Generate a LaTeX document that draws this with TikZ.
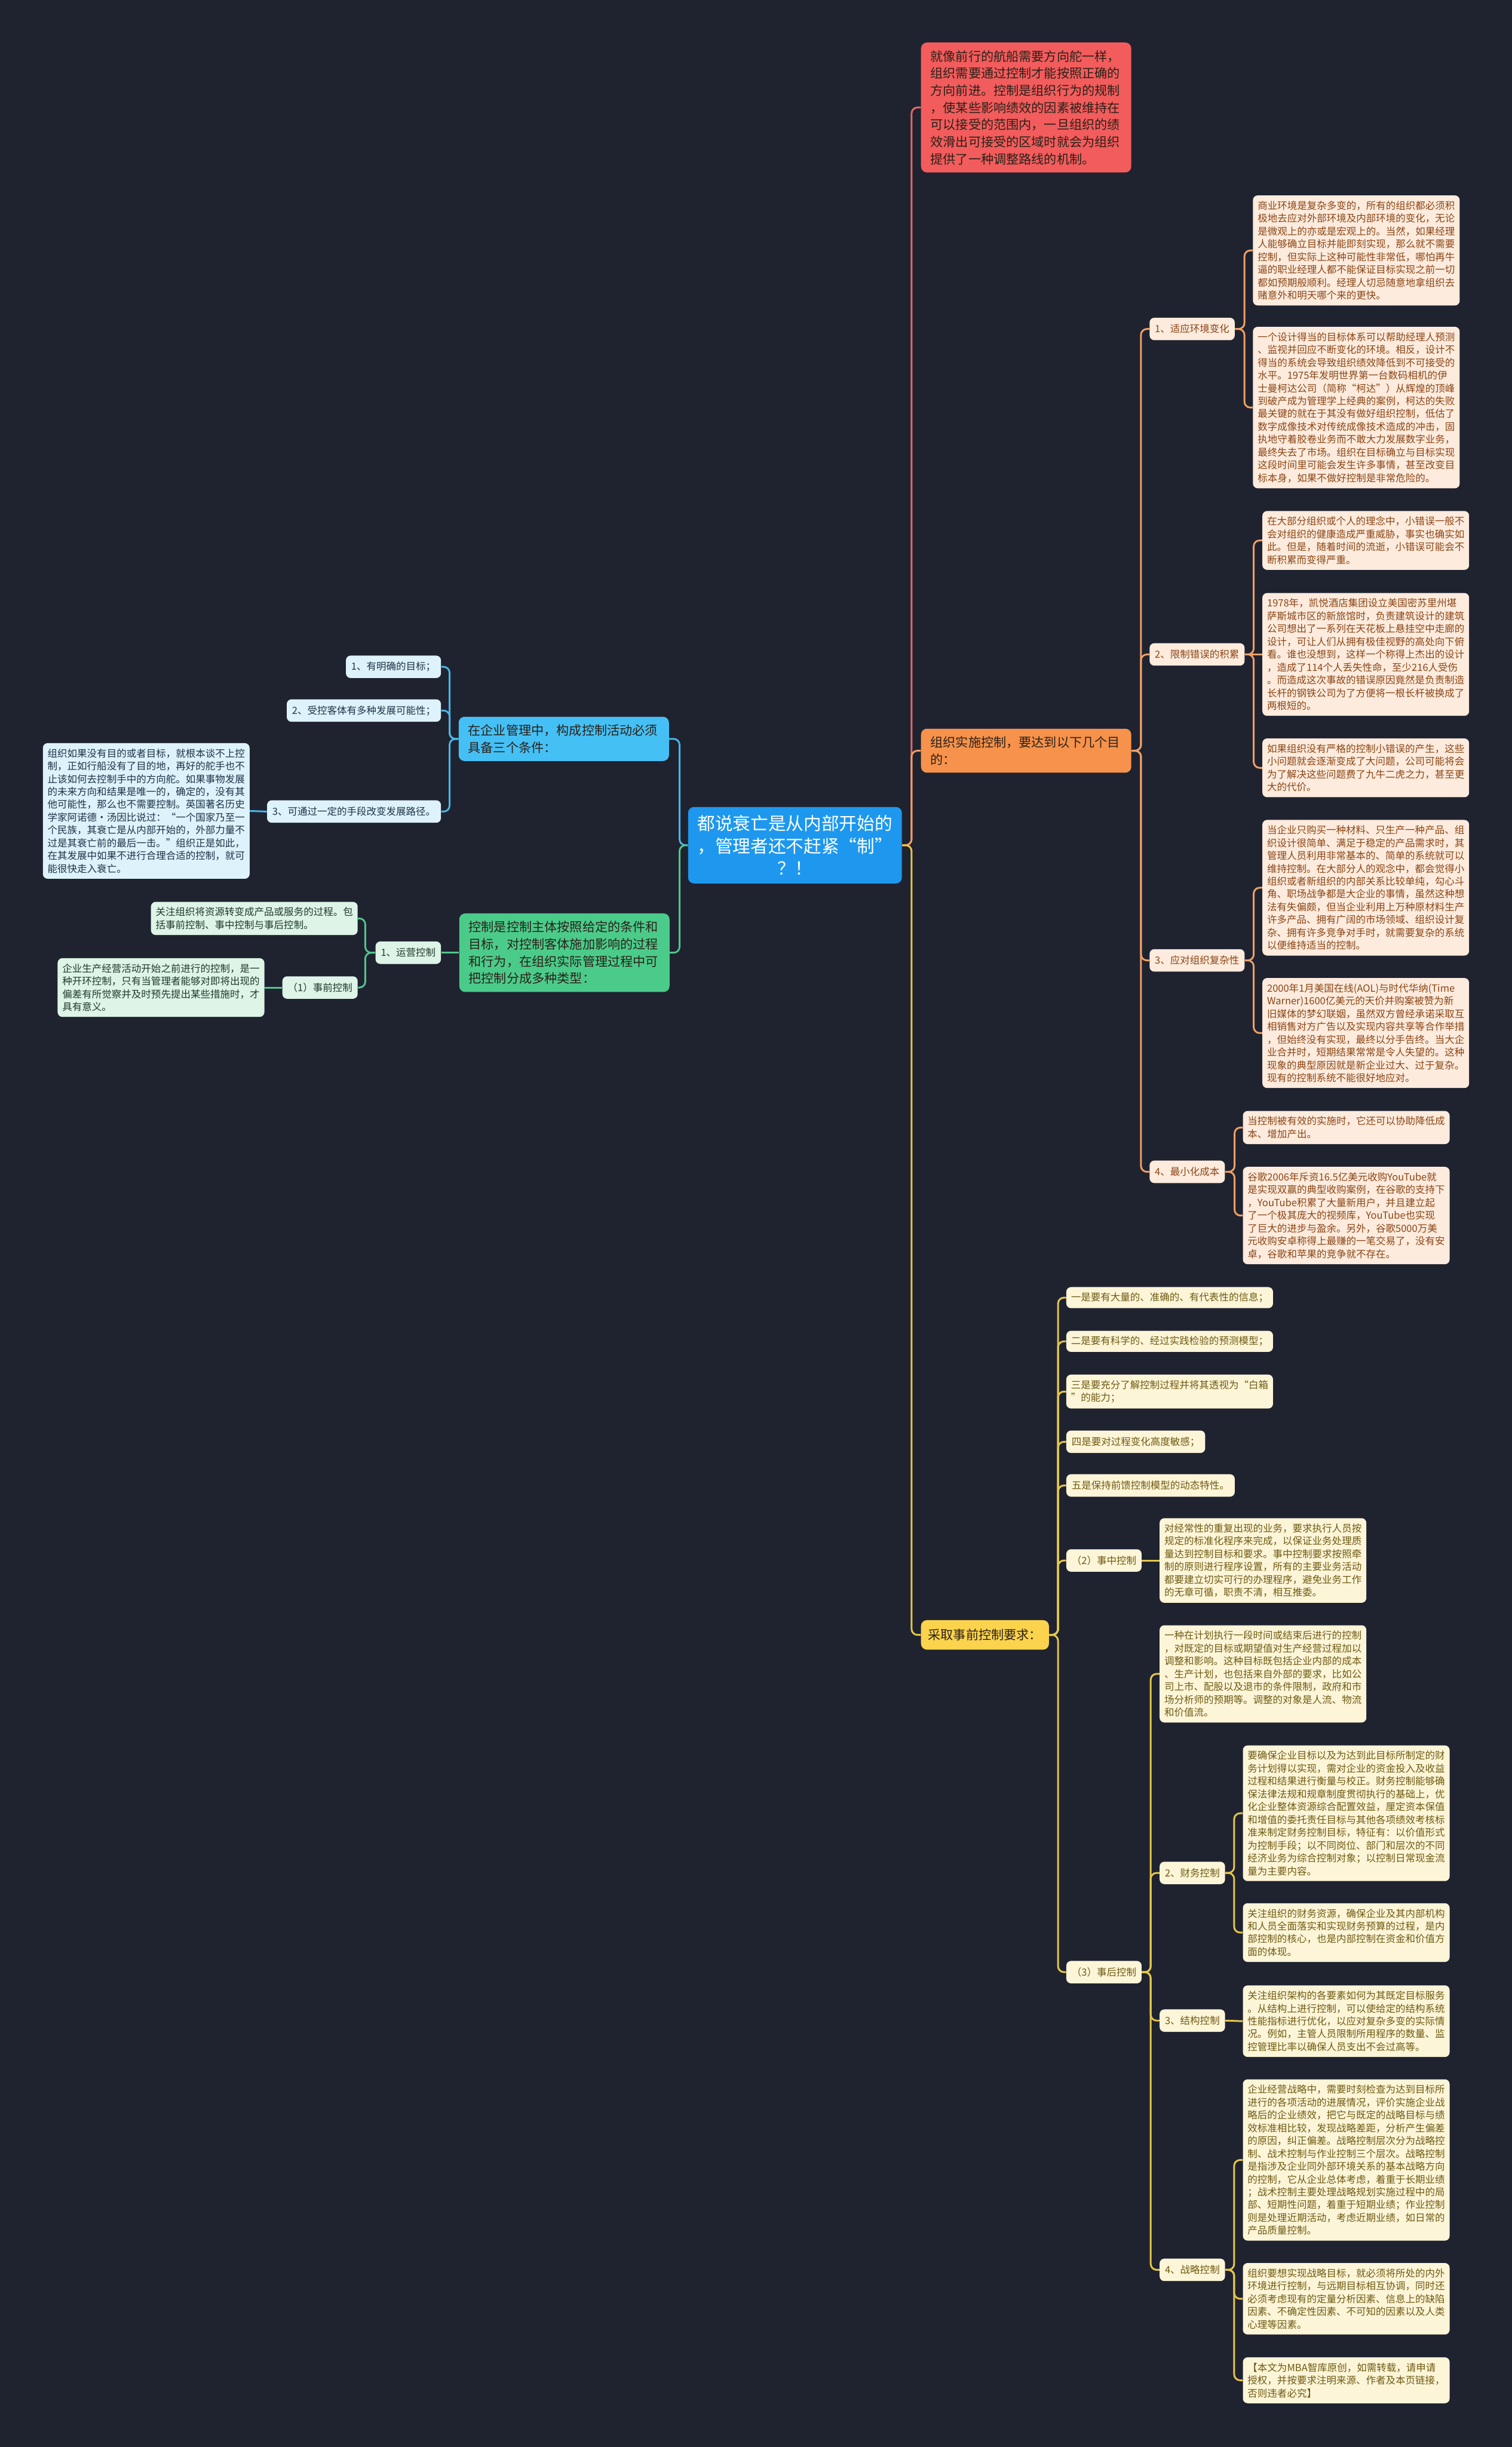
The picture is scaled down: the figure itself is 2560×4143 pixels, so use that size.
\documentclass[tikz,border=0pt]{standalone}
\usepackage{fontspec}
\setmainfont{Noto Sans CJK SC}
\usetikzlibrary{calc}

\definecolor{bgc}{HTML}{1F2330}
\definecolor{rootc}{HTML}{1D98EE}
\definecolor{bluec}{HTML}{45C0F5}
\definecolor{bluel}{HTML}{DDF2FB}
\definecolor{bluet}{HTML}{1E3346}
\definecolor{bluew}{HTML}{4BB6E8}
\definecolor{greenc}{HTML}{4BCB8A}
\definecolor{greenl}{HTML}{DDF4E7}
\definecolor{greent}{HTML}{1F3A2B}
\definecolor{greenw}{HTML}{52C48D}
\definecolor{redc}{HTML}{F25C5C}
\definecolor{redw}{HTML}{E4696A}
\definecolor{orangec}{HTML}{F6924B}
\definecolor{orangel}{HTML}{FDEBDD}
\definecolor{oranget}{HTML}{8A4515}
\definecolor{orangew}{HTML}{EFA066}
\definecolor{yellowc}{HTML}{FBD34C}
\definecolor{yellowl}{HTML}{FDF5D8}
\definecolor{yellowt}{HTML}{6E5A12}
\definecolor{yelloww}{HTML}{E6C649}
\definecolor{darkt}{HTML}{2A2018}

\tikzset{
  rootbox/.style={fill=rootc, text=white, rounded corners=5pt, text width=165pt,
    inner xsep=8pt, inner ysep=7pt, align=center, font=\fontsize{15}{19}\selectfont},
  mainbox/.style={rounded corners=5pt, text width=162pt, inner xsep=8pt, inner ysep=6.5pt,
    align=left, text=darkt, font=\fontsize{10.7}{14.5}\selectfont},
  tagbox/.style={rounded corners=4pt, inner xsep=4.5pt, inner ysep=0pt, minimum height=19pt,
    font=\fontsize{8.35}{10.85}\selectfont},
  notebox/.style={rounded corners=4pt, text width=167pt, inner xsep=4pt, inner ysep=4.7pt,
    align=left, font=\fontsize{8.35}{10.85}\selectfont},
  wire/.style={line width=1.5pt, rounded corners=5pt},
  bluetag/.style={tagbox, fill=bluel, text=bluet},
  bluenote/.style={notebox, fill=bluel, text=bluet},
  greentag/.style={tagbox, fill=greenl, text=greent},
  greennote/.style={notebox, fill=greenl, text=greent},
  orangetag/.style={tagbox, fill=orangel, text=oranget},
  orangenote/.style={notebox, fill=orangel, text=oranget},
  yellowtag/.style={tagbox, fill=yellowl, text=yellowt},
  yellownote/.style={notebox, fill=yellowl, text=yellowt},
}

\begin{document}
\begin{tikzpicture}[x=0.5pt,y=-0.5pt]
  \fill[bgc] (0,0) rectangle (2560,4143);
  \useasboundingbox (0,0) rectangle (2560,4143);

  % centre
  \node[rootbox] (root) at (1346,1431) {都说衰亡是从内部开始的\\，管理者还不赶紧“制”\\？！};

  % left: conditions
  \node[mainbox, fill=bluec, anchor=east] (a) at (1133,1251) {在企业管理中，构成控制活动必须\\具备三个条件：};
  \node[bluetag, anchor=east] (a1) at (747,1129) {1、有明确的目标；};
  \node[bluetag, anchor=east] (a2) at (747,1203) {2、受控客体有多种发展可能性；};
  \node[bluetag, anchor=east] (a3) at (747,1374) {3、可通过一定的手段改变发展路径。};
  \node[bluenote, anchor=east] (a3t) at (423,1373) {组织如果没有目的或者目标，就根本谈不上控\\制，正如行船没有了目的地，再好的舵手也不\\止该如何去控制手中的方向舵。如果事物发展\\的未来方向和结果是唯一的，确定的，没有其\\他可能性，那么也不需要控制。英国著名历史\\学家阿诺德·汤因比说过：“一个国家乃至一\\个民族，其衰亡是从内部开始的，外部力量不\\过是其衰亡前的最后一击。”组织正是如此，\\在其发展中如果不进行合理合适的控制，就可\\能很快走入衰亡。};

  % left: types
  \node[mainbox, fill=greenc, anchor=east] (b) at (1134,1613) {控制是控制主体按照给定的条件和\\目标，对控制客体施加影响的过程\\和行为，在组织实际管理过程中可\\把控制分成多种类型：};
  \node[greentag, anchor=east] (b1) at (747,1613) {1、运营控制};
  \node[greennote, anchor=east] (b1a) at (606,1555) {关注组织将资源转变成产品或服务的过程。包\\括事前控制、事中控制与事后控制。};
  \node[greentag, anchor=east] (b1b) at (606,1672) {（1）事前控制};
  \node[greennote, anchor=east] (b1bt) at (448,1672) {企业生产经营活动开始之前进行的控制，是一\\种开环控制，只有当管理者能够对即将出现的\\偏差有所觉察并及时预先提出某些措施时，才\\具有意义。};

  % right: intro
  \node[mainbox, fill=redc, anchor=west] (r1) at (1559,182) {就像前行的航船需要方向舵一样，\\组织需要通过控制才能按照正确的\\方向前进。控制是组织行为的规制\\，使某些影响绩效的因素被维持在\\可以接受的范围内，一旦组织的绩\\效滑出可接受的区域时就会为组织\\提供了一种调整路线的机制。};

  % right: aims
  \node[mainbox, fill=orangec, anchor=west] (r2) at (1559,1271) {组织实施控制，要达到以下几个目\\的：};
  \node[orangetag, anchor=west] (r2a) at (1946,557) {1、适应环境变化};
  \node[orangenote, anchor=west] (r2a1) at (2121,424) {商业环境是复杂多变的，所有的组织都必须积\\极地去应对外部环境及内部环境的变化，无论\\是微观上的亦或是宏观上的。当然，如果经理\\人能够确立目标并能即刻实现，那么就不需要\\控制，但实际上这种可能性非常低，哪怕再牛\\逼的职业经理人都不能保证目标实现之前一切\\都如预期般顺利。经理人切忌随意地拿组织去\\赌意外和明天哪个来的更快。};
  \node[orangenote, anchor=west] (r2a2) at (2121,690) {一个设计得当的目标体系可以帮助经理人预测\\、监视并回应不断变化的环境。相反，设计不\\得当的系统会导致组织绩效降低到不可接受的\\水平。1975年发明世界第一台数码相机的伊\\士曼柯达公司（简称“柯达”）从辉煌的顶峰\\到破产成为管理学上经典的案例，柯达的失败\\最关键的就在于其没有做好组织控制，低估了\\数字成像技术对传统成像技术造成的冲击，固\\执地守着胶卷业务而不敢大力发展数字业务，\\最终失去了市场。组织在目标确立与目标实现\\这段时间里可能会发生许多事情，甚至改变目\\标本身，如果不做好控制是非常危险的。};
  \node[orangetag, anchor=west] (r2b) at (1946,1108) {2、限制错误的积累};
  \node[orangenote, anchor=west] (r2b1) at (2137,915) {在大部分组织或个人的理念中，小错误一般不\\会对组织的健康造成严重威胁，事实也确实如\\此。但是，随着时间的流逝，小错误可能会不\\断积累而变得严重。};
  \node[orangenote, anchor=west] (r2b2) at (2137,1108) {1978年，凯悦酒店集团设立美国密苏里州堪\\萨斯城市区的新旅馆时，负责建筑设计的建筑\\公司想出了一系列在天花板上悬挂空中走廊的\\设计，可让人们从拥有极佳视野的高处向下俯\\看。谁也没想到，这样一个称得上杰出的设计\\，造成了114个人丢失性命，至少216人受伤\\。而造成这次事故的错误原因竟然是负责制造\\长杆的钢铁公司为了方便将一根长杆被换成了\\两根短的。};
  \node[orangenote, anchor=west] (r2b3) at (2137,1300) {如果组织没有严格的控制小错误的产生，这些\\小问题就会逐渐变成了大问题，公司可能将会\\为了解决这些问题费了九牛二虎之力，甚至更\\大的代价。};
  \node[orangetag, anchor=west] (r2c) at (1946,1626) {3、应对组织复杂性};
  \node[orangenote, anchor=west] (r2c1) at (2137,1503) {当企业只购买一种材料、只生产一种产品、组\\织设计很简单、满足于稳定的产品需求时，其\\管理人员利用非常基本的、简单的系统就可以\\维持控制。在大部分人的观念中，都会觉得小\\组织或者新组织的内部关系比较单纯，勾心斗\\角、职场战争都是大企业的事情，虽然这种想\\法有失偏颇，但当企业利用上万种原材料生产\\许多产品、拥有广阔的市场领域、组织设计复\\杂、拥有许多竞争对手时，就需要复杂的系统\\以便维持适当的控制。};
  \node[orangenote, anchor=west] (r2c2) at (2137,1749) {2000年1月美国在线(AOL)与时代华纳(Time\\Warner)1600亿美元的天价并购案被赞为新\\旧媒体的梦幻联姻，虽然双方曾经承诺采取互\\相销售对方广告以及实现内容共享等合作举措\\，但始终没有实现，最终以分手告终。当大企\\业合并时，短期结果常常是令人失望的。这种\\现象的典型原因就是新企业过大、过于复杂。\\现有的控制系统不能很好地应对。};
  \node[orangetag, anchor=west] (r2d) at (1946,1984) {4、最小化成本};
  \node[orangenote, anchor=west] (r2d1) at (2104,1909) {当控制被有效的实施时，它还可以协助降低成\\本、增加产出。};
  \node[orangenote, anchor=west] (r2d2) at (2104,2058) {谷歌2006年斥资16.5亿美元收购YouTube就\\是实现双赢的典型收购案例，在谷歌的支持下\\，YouTube积累了大量新用户，并且建立起\\了一个极其庞大的视频库，YouTube也实现\\了巨大的进步与盈余。另外，谷歌5000万美\\元收购安卓称得上最赚的一笔交易了，没有安\\卓，谷歌和苹果的竞争就不存在。};

  % right: requirements
  \node[mainbox, fill=yellowc, text width=, inner xsep=6pt, minimum height=25pt, anchor=west] (r3) at (1559,2768) {采取事前控制要求：};
  \node[yellownote, anchor=west] (r3a) at (1805,2197) {一是要有大量的、准确的、有代表性的信息；};
  \node[yellownote, anchor=west] (r3b) at (1805,2271) {二是要有科学的、经过实践检验的预测模型；};
  \node[yellownote, anchor=west] (r3c) at (1805,2356) {三是要充分了解控制过程并将其透视为“白箱\\”的能力；};
  \node[yellowtag, anchor=west] (r3d) at (1805,2441) {四是要对过程变化高度敏感；};
  \node[yellowtag, anchor=west] (r3e) at (1805,2515) {五是保持前馈控制模型的动态特性。};
  \node[yellowtag, anchor=west] (r3f) at (1805,2642) {（2）事中控制};
  \node[yellownote, anchor=west] (r3ft) at (1963,2642) {对经常性的重复出现的业务，要求执行人员按\\规定的标准化程序来完成，以保证业务处理质\\量达到控制目标和要求。事中控制要求按照牵\\制的原则进行程序设置，所有的主要业务活动\\都要建立切实可行的办理程序，避免业务工作\\的无章可循，职责不清，相互推委。};
  \node[yellowtag, anchor=west] (r3g) at (1805,3339) {（3）事后控制};
  \node[yellownote, anchor=west] (r3g1) at (1963,2834) {一种在计划执行一段时间或结束后进行的控制\\，对既定的目标或期望值对生产经营过程加以\\调整和影响。这种目标既包括企业内部的成本\\、生产计划，也包括来自外部的要求，比如公\\司上市、配股以及退市的条件限制，政府和市\\场分析师的预期等。调整的对象是人流、物流\\和价值流。};
  \node[yellowtag, anchor=west] (r3g2) at (1963,3171) {2、财务控制};
  \node[yellownote, anchor=west] (r3g2a) at (2104,3070) {要确保企业目标以及为达到此目标所制定的财\\务计划得以实现，需对企业的资金投入及收益\\过程和结果进行衡量与校正。财务控制能够确\\保法律法规和规章制度贯彻执行的基础上，优\\化企业整体资源综合配置效益，厘定资本保值\\和增值的委托责任目标与其他各项绩效考核标\\准来制定财务控制目标，特征有：以价值形式\\为控制手段；以不同岗位、部门和层次的不同\\经济业务为综合控制对象；以控制日常现金流\\量为主要内容。};
  \node[yellownote, anchor=west] (r3g2b) at (2104,3272) {关注组织的财务资源，确保企业及其内部机构\\和人员全面落实和实现财务预算的过程，是内\\部控制的核心，也是内部控制在资金和价值方\\面的体现。};
  \node[yellowtag, anchor=west] (r3g3) at (1963,3421) {3、结构控制};
  \node[yellownote, anchor=west] (r3g3a) at (2104,3422) {关注组织架构的各要素如何为其既定目标服务\\。从结构上进行控制，可以使给定的结构系统\\性能指标进行优化，以应对复杂多变的实际情\\况。例如，主管人员限制所用程序的数量、监\\控管理比率以确保人员支出不会过高等。};
  \node[yellowtag, anchor=west] (r3g4) at (1963,3843) {4、战略控制};
  \node[yellownote, anchor=west] (r3g4a) at (2104,3657) {企业经营战略中，需要时刻检查为达到目标所\\进行的各项活动的进展情况，评价实施企业战\\略后的企业绩效，把它与既定的战略目标与绩\\效标准相比较，发现战略差距，分析产生偏差\\的原因，纠正偏差。战略控制层次分为战略控\\制、战术控制与作业控制三个层次。战略控制\\是指涉及企业同外部环境关系的基本战略方向\\的控制，它从企业总体考虑，着重于长期业绩\\；战术控制主要处理战略规划实施过程中的局\\部、短期性问题，着重于短期业绩；作业控制\\则是处理近期活动，考虑近期业绩，如日常的\\产品质量控制。};
  \node[yellownote, anchor=west] (r3g4b) at (2104,3892) {组织要想实现战略目标，就必须将所处的内外\\环境进行控制，与远期目标相互协调，同时还\\必须考虑现有的定量分析因素、信息上的缺陷\\因素、不确定性因素、不可知的因素以及人类\\心理等因素。};
  \node[yellownote, anchor=west] (r3g4c) at (2104,4030) {【本文为MBA智库原创，如需转载，请申请\\授权，并按要求注明来源、作者及本页链接，\\否则违者必究】};

  % connectors, left
  \draw[wire, bluew] (root.west) -- ++(-14,0) |- (a.east);
  \draw[wire, greenw] (root.west) -- ++(-14,0) |- (b.east);
  \foreach \c in {a1,a2,a3}
    \draw[wire, bluew] (a.west) -- ++(-15,0) |- (\c.east);
  \draw[wire, bluew] (a3.west) -- (a3t.east);
  \draw[wire, greenw] (b.west) -- (b1.east);
  \foreach \c in {b1a,b1b}
    \draw[wire, greenw] (b1.west) -- ++(-17,0) |- (\c.east);
  \draw[wire, greenw] (b1b.west) -- (b1bt.east);

  % connectors, right
  \draw[wire, redw] (root.east) -- ++(16,0) |- (r1.west);
  \draw[wire, orangew] (root.east) -- ++(16,0) |- (r2.west);
  \draw[wire, yelloww] (root.east) -- ++(16,0) |- (r3.west);
  \foreach \c in {r2a,r2b,r2c,r2d}
    \draw[wire, orangew] (r2.east) -- ++(16,0) |- (\c.west);
  \foreach \c in {r2a1,r2a2}
    \draw[wire, orangew] (r2a.east) -- ++(16,0) |- (\c.west);
  \foreach \c in {r2b1,r2b3}
    \draw[wire, orangew] (r2b.east) -- ++(15,0) |- (\c.west);
  \draw[wire, orangew] (r2b.east) -- (r2b2.west);
  \foreach \c in {r2c1,r2c2}
    \draw[wire, orangew] (r2c.east) -- ++(15,0) |- (\c.west);
  \foreach \c in {r2d1,r2d2}
    \draw[wire, orangew] (r2d.east) -- ++(16,0) |- (\c.west);
  \foreach \c in {r3a,r3b,r3c,r3d,r3e,r3f,r3g}
    \draw[wire, yelloww] (r3.east) -- ++(15,0) |- (\c.west);
  \draw[wire, yelloww] (r3f.east) -- (r3ft.west);
  \foreach \c in {r3g1,r3g2,r3g3,r3g4}
    \draw[wire, yelloww] (r3g.east) -- ++(15,0) |- (\c.west);
  \foreach \c in {r3g2a,r3g2b}
    \draw[wire, yelloww] (r3g2.east) -- ++(15,0) |- (\c.west);
  \draw[wire, yelloww] (r3g3.east) -- (r3g3a.west);
  \foreach \c in {r3g4a,r3g4b,r3g4c}
    \draw[wire, yelloww] (r3g4.east) -- ++(15,0) |- (\c.west);
\end{tikzpicture}
\end{document}
